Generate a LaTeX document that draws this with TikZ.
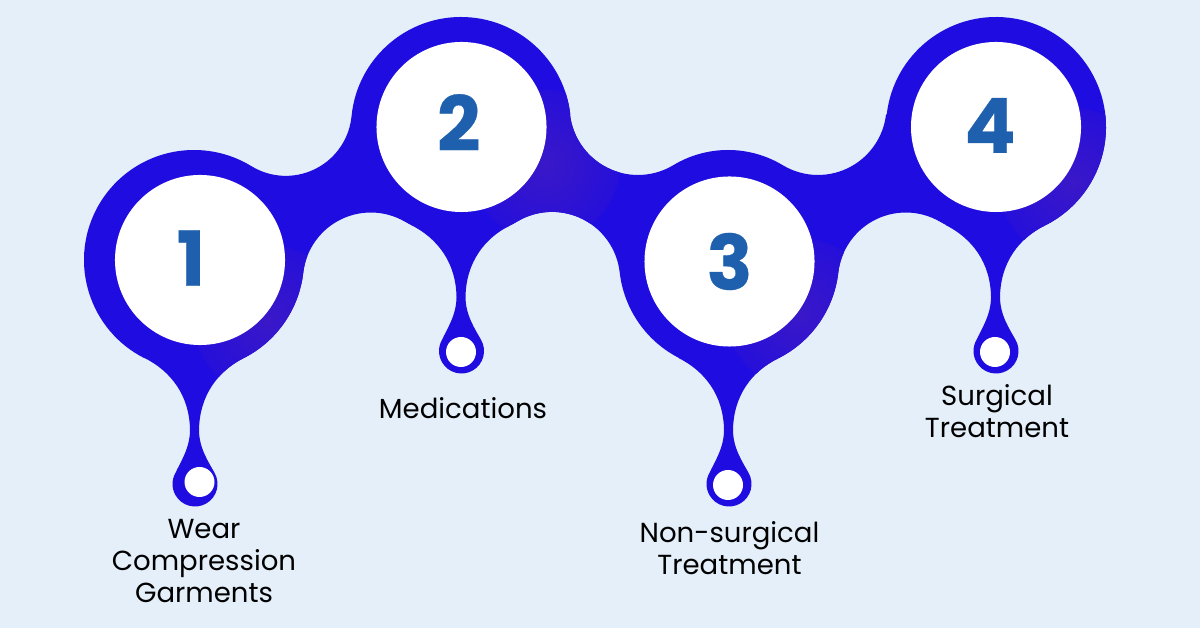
\documentclass[tikz,border=0pt]{standalone}
\usepackage{fontspec}
\usetikzlibrary{calc}
\setmainfont{Poppins}
\newfontfamily\digitfont[FakeBold=0.4]{Poppins Bold}
\definecolor{paleblue}{HTML}{E4EFFA}
\definecolor{blobblue}{HTML}{1F0CE0}
\definecolor{blobglow}{HTML}{3A18C8}
\definecolor{digitblue}{HTML}{1F60AE}
\pgfdeclareradialshading{glowspot}{\pgfpointorigin}{color(0bp)=(blobglow); color(34bp)=(blobblue); color(50bp)=(blobblue)}
\tikzset{
  sweep/.style n args={4}{insert path={-- ($(#1)+(#2:#4)$) arc (#2:#3:#4)}},
  drop/.style 2 args={insert path={
    .. controls (#1+24,#2-111) and (#1+5,#2-135) .. (#1+4.5,#2-170)
    .. controls (#1+4.5,#2-188) and (#1+14,#2-202) .. (#1+20,#2-212.75)
    arc (30:-210:22.5)
    .. controls (#1-14,#2-202) and (#1-4.5,#2-188) .. (#1-4.5,#2-170)
    .. controls (#1-5,#2-135) and (#1-24,#2-111) .. (#1-50,#2-98)}},
  ribbon/.style={insert path={
    ($(c1)+(243:110)$) arc (243:58.55:110)
    [sweep={up12}{238.55}{354.41}{66}]
    [sweep={c2}{174.41}{6.61}{110}]
    [sweep={up23}{186.61}{301.04}{68.5}]
    [sweep={hump}{121.04}{58.96}{106}]
    [sweep={up34}{238.96}{353.43}{68.5}]
    [sweep={c4}{173.43}{-63.6}{110}]
    [drop={995.5}{501}]
    [sweep={c4}{-117}{-120.44}{110}]
    [sweep={lo34}{59.56}{173.39}{68}]
    [sweep={c3}{-6.61}{-63.6}{110}]
    [drop={728.5}{368}]
    [sweep={c3}{-117}{-173.58}{110}]
    [sweep={lo23}{6.42}{120.79}{68}]
    [sweep={c2}{-59.21}{-63.6}{110}]
    [drop={461}{501}]
    [sweep={c2}{-117}{-120.44}{110}]
    [sweep={lo12}{59.56}{173.39}{68}]
    [sweep={c1}{-6.61}{-63.6}{110}]
    [drop={194.5}{368}]
    -- cycle}},
  disc/.style={circle,fill=white,inner sep=0pt,minimum size=4.25cm},
  dot/.style={circle,fill=white,inner sep=0pt,minimum size=0.75cm},
  digit/.style={text=digitblue,font=\digitfont\fontsize{54}{60}\selectfont,inner sep=0pt},
  caption/.style={align=center,text=black,inner sep=0pt,font=\fontsize{19.6}{22.75}\selectfont}
}
\begin{document}
\begin{tikzpicture}[x=0.025cm,y=0.025cm]

  %Background
  \useasboundingbox (0,0) rectangle (1200,628);
  \fill [paleblue] (0,0) rectangle (1200,628);

  %Centres of the rings
  \coordinate (c1) at (194,368);
  \coordinate (c2) at (461,501);
  \coordinate (c3) at (729,368);
  \coordinate (c4) at (996,501);
  \coordinate (hump) at (728,372);

  %Centres of the dips between the rings
  \coordinate (up12) at (285.84,518.14);
  \coordinate (up23) at (638,521.5);
  \coordinate (up34) at (818,521.5);
  \coordinate (lo12) at (370.8,347.5);
  \coordinate (lo23) at (552.1,348.1);
  \coordinate (lo34) at (905.8,347.5);

  %Ribbon
  \fill [blobblue,ribbon];

  %Glow at the lower right of each ring
  \begin{scope}
    \clip [ribbon];
    \shade [shading=glowspot] (268,308) circle (75);
    \shade [shading=glowspot] (545,463) circle (75);
    \shade [shading=glowspot] (800,315) circle (75);
    \shade [shading=glowspot] (1073,445) circle (75);
  \end{scope}

  %Discs
  \node [disc] (disc1) at (200,368) {};
  \node [disc] (disc2) at (461.5,501) {};
  \node [disc] (disc3) at (729.5,366.5) {};
  \node [disc] (disc4) at (996,501) {};

  %Small discs
  \node [dot] (dot1) at (199.5,146) {};
  \node [dot] (dot2) at (461,276) {};
  \node [dot] (dot3) at (728,143) {};
  \node [dot] (dot4) at (995,276) {};

  %Numbers
  \node [digit] (num1) at (191,370) {1};
  \node [digit] (num2) at (458.7,505.5) {2};
  \node [digit] (num3) at (729.5,366.5) {3};
  \node [digit] (num4) at (990,502.5) {4};

  %Captions
  \node [caption] (cap1) at (204,67) {Wear\\Compression\\Garments};
  \node [caption] (cap2) at (463,220) {Medications};
  \node [caption] (cap3) at (729.5,80) {Non-surgical\\Treatment};
  \node [caption] (cap4) at (997,217) {Surgical\\Treatment};

\end{tikzpicture}
\end{document}
